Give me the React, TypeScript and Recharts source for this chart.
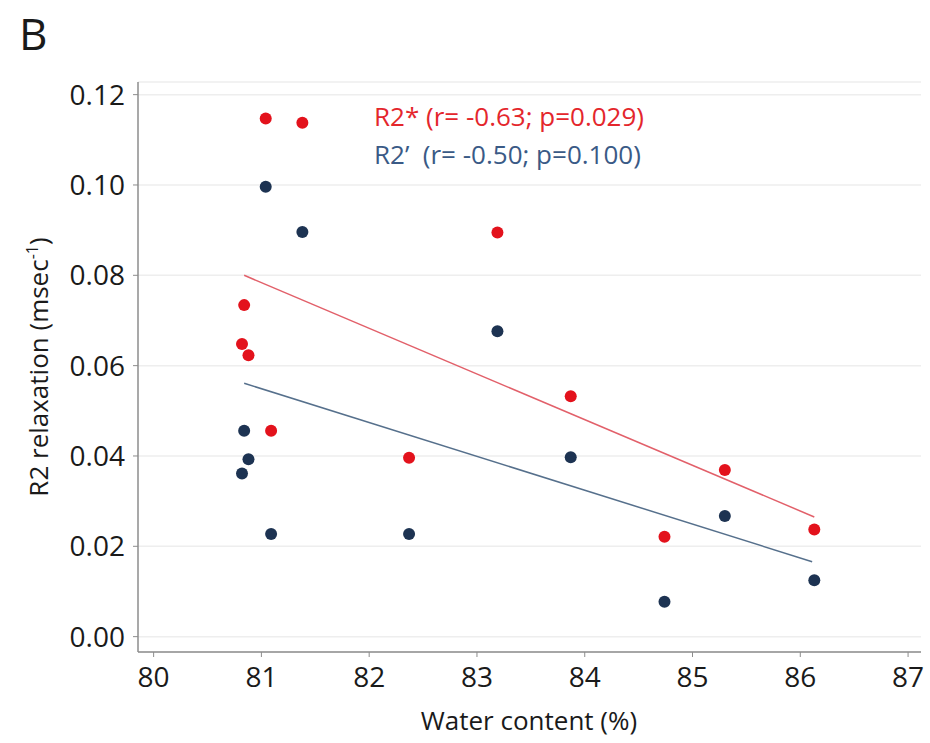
import React from 'react';
import {
  ScatterChart, Scatter, XAxis, YAxis, CartesianGrid, Customized
} from 'recharts';

// water content (%) shared by both measures
const waterContent = [81.04, 81.38, 80.84, 80.82, 80.88, 81.09, 82.37, 83.19, 83.87, 85.30, 84.74, 86.13];
const r2Star = [0.1147, 0.1138, 0.0734, 0.0648, 0.0623, 0.0456, 0.0396, 0.0895, 0.0532, 0.0369, 0.0221, 0.0237];
const r2Prime = [0.0996, 0.0896, 0.0456, 0.0361, 0.0393, 0.0227, 0.0227, 0.0676, 0.0397, 0.0267, 0.0077, 0.0125];

// regression lines (end points)
const r2StarFitX = [80.84, 86.13];
const r2StarFitY = [0.0800, 0.0265];
const r2PrimeFitX = [80.84, 86.11];
const r2PrimeFitY = [0.0561, 0.0166];

const xTicks = [80, 81, 82, 83, 84, 85, 86, 87];
const yTicks = [0, 0.02, 0.04, 0.06, 0.08, 0.1, 0.12];

const legendStar = 'R2* (r= -0.63; p=0.029)';
const legendPrime = 'R2\u2019  (r= -0.50; p=0.100)';

const RED = '#e3121c';
const NAVY = '#1d3352';
const FONT = '"Open Sans", sans-serif';

const zip = (xs: number[], ys: number[]) => xs.map((x, i) => ({ x, y: ys[i] }));

const starData = zip(waterContent, r2Star);
const primeData = zip(waterContent, r2Prime);
const starFit = zip(r2StarFitX, r2StarFitY);
const primeFit = zip(r2PrimeFitX, r2PrimeFitY);

const dot = (color: string) => (p: any) => (
  <circle cx={p.cx} cy={p.cy} r={6} fill={color} />
);

const noDot = () => <g />;

const Annotations = () => (
  <g style={{ fontFamily: FONT }}>
    <text x={19} y={50} fontSize={44} fill="#1a1a1a">B</text>
    <text x={374} y={126} fontSize={26} fill="#e4262c" style={{ whiteSpace: 'pre' }}>{legendStar}</text>
    <text x={374} y={164} fontSize={26} fill="#3a5a86" style={{ whiteSpace: 'pre' }}>{legendPrime}</text>
    <text
      transform="translate(48, 367) rotate(-90)"
      textAnchor="middle"
      fontSize={26}
      fill="#1a1a1a"
    >
      R2 relaxation (msec
      <tspan fontSize={16} dy={-10}>-1</tspan>
      <tspan dy={10}>)</tspan>
    </text>
    <text x={529} y={730} textAnchor="middle" fontSize={26} fill="#1a1a1a">Water content (%)</text>
  </g>
);

const App = () => {
  return (
    <div style={{ position: 'absolute', left: 0, top: 0, width: 930, height: 743, background: '#fff' }}>
      <ScatterChart width={930} height={743} margin={{ top: 82, right: 9, bottom: 0, left: 0 }}>
        <CartesianGrid vertical={false} stroke="#eeeeee" strokeWidth={1.5} />
        <XAxis
          type="number"
          dataKey="x"
          domain={[79.855, 87.12]}
          allowDataOverflow
          ticks={xTicks}
          height={91}
          tickSize={5}
          tickMargin={10}
          tick={{ fill: '#1a1a1a', fontSize: 28, fontFamily: FONT }}
          axisLine={{ stroke: '#8c8c8c', strokeWidth: 1.5 }}
          tickLine={{ stroke: '#8c8c8c' }}
        />
        <YAxis
          type="number"
          dataKey="y"
          domain={[-0.0034, 0.1228]}
          allowDataOverflow
          ticks={yTicks}
          width={138}
          tickSize={5}
          tickMargin={8}
          tickFormatter={(v: number) => v.toFixed(2)}
          tick={{ fill: '#1a1a1a', fontSize: 28, fontFamily: FONT }}
          axisLine={{ stroke: '#8c8c8c', strokeWidth: 1.5 }}
          tickLine={{ stroke: '#8c8c8c' }}
        />
        <Scatter
          data={starFit}
          line={{ stroke: '#e2606a', strokeWidth: 1.5 }}
          shape={noDot}
          isAnimationActive={false}
        />
        <Scatter
          data={primeFit}
          line={{ stroke: '#56708c', strokeWidth: 1.5 }}
          shape={noDot}
          isAnimationActive={false}
        />
        <Scatter data={starData} fill={RED} shape={dot(RED)} isAnimationActive={false} />
        <Scatter data={primeData} fill={NAVY} shape={dot(NAVY)} isAnimationActive={false} />
        <Customized component={Annotations} />
      </ScatterChart>
    </div>
  );
};

export default App;
